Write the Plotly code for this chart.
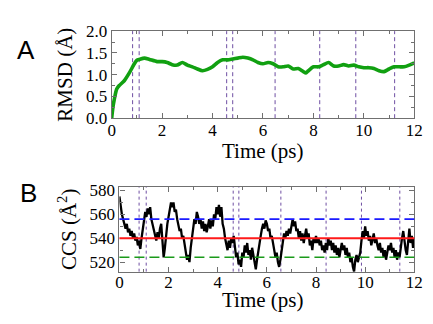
import numpy as np
import plotly.graph_objects as go

# ---------------- data ----------------
rmsd_t = [0, 0.05, 0.1, 0.2, 0.3, 0.5, 0.7, 0.9, 1.0, 1.1, 1.3, 1.5, 1.8, 2.0, 2.2, 2.4,
          2.6, 2.8, 3.0, 3.2, 3.4, 3.6, 3.8, 4.0, 4.2, 4.4, 4.6, 4.8, 5.0, 5.2, 5.4, 5.6,
          5.8, 6.0, 6.2, 6.4, 6.6, 6.8, 7.0, 7.2, 7.4, 7.6, 7.7, 7.8, 8.0, 8.2, 8.4, 8.6,
          8.8, 9.0, 9.2, 9.4, 9.6, 9.8, 10.0, 10.2, 10.4, 10.6, 10.8, 11.0, 11.2, 11.4,
          11.6, 11.8, 12.0]
rmsd_v = [0.0, 0.25, 0.42, 0.67, 0.75, 0.86, 1.04, 1.25, 1.33, 1.35, 1.38, 1.35, 1.30, 1.30,
          1.28, 1.23, 1.22, 1.28, 1.22, 1.18, 1.13, 1.09, 1.12, 1.18, 1.28, 1.34, 1.34, 1.36,
          1.38, 1.40, 1.38, 1.34, 1.28, 1.25, 1.28, 1.25, 1.18, 1.18, 1.20, 1.13, 1.14, 1.07,
          1.04, 1.09, 1.18, 1.18, 1.23, 1.28, 1.20, 1.20, 1.23, 1.20, 1.22, 1.18, 1.16, 1.16,
          1.14, 1.09, 1.07, 1.13, 1.18, 1.18, 1.18, 1.22, 1.27]

ccs_v = [
    575, 566, 560, 556, 552, 548, 552, 545, 548, 542, 546, 540, 544, 538, 541, 534, 538, 531, 540, 548,
    556, 562, 558, 565, 560, 566, 556, 552, 546, 542, 538, 545, 540, 548, 552, 538, 524, 532, 544, 552,
    558, 564, 570, 566, 570, 562, 564, 556, 552, 546, 548, 540, 542, 534, 530, 522, 526, 520, 532, 540,
    546, 556, 552, 562, 558, 552, 556, 548, 554, 546, 552, 545, 550, 556, 548, 555, 550, 560, 556, 566,
    560, 568, 558, 566, 552, 548, 540, 534, 530, 538, 532, 540, 536, 542, 530, 524, 528, 518, 522, 516,
    528, 524, 534, 528, 536, 526, 530, 522, 532, 526, 518, 514, 522, 530, 536, 542, 548, 552, 548, 555,
    552, 546, 548, 540, 542, 534, 530, 524, 528, 520, 516, 522, 530, 538, 544, 540, 546, 542, 548, 544,
    552, 556, 550, 554, 546, 548, 540, 546, 538, 544, 536, 542, 548, 540, 544, 534, 538, 530, 540, 536,
    542, 536, 540, 534, 538, 530, 534, 528, 536, 530, 540, 534, 538, 530, 536, 528, 534, 526, 532, 524,
    530, 536, 530, 534, 526, 532, 524, 528, 520, 524, 516, 512, 522, 526, 520, 524, 528, 538, 546, 540,
    550, 542, 546, 538, 542, 534, 538, 544, 536, 540, 534, 530, 536, 528, 532, 524, 530, 522, 528, 534,
    530, 536, 528, 532, 524, 530, 522, 528, 524, 534, 540, 546, 536, 530, 526, 540, 548, 536, 542, 532, 540,
]
ccs_t = np.round(np.arange(len(ccs_v)) * 0.05, 3)

ccs_upper = 556
ccs_mean = 540
ccs_lower = 524

vlines_a = [0.83, 1.09, 4.56, 4.80, 6.48, 8.25, 9.68, 11.22]
vlines_b = [0.80, 1.09, 4.63, 4.86, 6.57, 8.41, 9.85, 11.41]

x_ticks = [0, 2, 4, 6, 8, 10, 12]
rmsd_ticks = [0.0, 0.5, 1.0, 1.5, 2.0]
ccs_ticks = [520, 540, 560, 580]

# ---------------- figure ----------------
SERIF = "Liberation Serif, Times New Roman, serif"
FRAME = "#707070"
PURPLE = "#6f4fa3"

fig = go.Figure()
fig.add_trace(go.Scatter(x=rmsd_t, y=rmsd_v, mode="lines", xaxis="x", yaxis="y",
                         line=dict(color="#11a011", width=3.6, shape="spline", smoothing=0.6),
                         showlegend=False))
fig.add_trace(go.Scatter(x=ccs_t, y=ccs_v, mode="lines", xaxis="x2", yaxis="y2",
                         line=dict(color="black", width=2.3), showlegend=False))

shapes = []
for v in vlines_a:
    shapes.append(dict(type="line", xref="x", yref="y domain", x0=v, x1=v, y0=0, y1=1,
                       line=dict(color=PURPLE, width=1, dash="4px,3px"), layer="below"))
for v in vlines_b:
    shapes.append(dict(type="line", xref="x2", yref="y2 domain", x0=v, x1=v, y0=0, y1=1,
                       line=dict(color=PURPLE, width=1, dash="3px,3px"), layer="below"))
shapes.append(dict(type="line", xref="x2 domain", yref="y2", x0=0, x1=1, y0=ccs_upper, y1=ccs_upper,
                   line=dict(color="#1a1aff", width=1.6, dash="10px,5px")))
shapes.append(dict(type="line", xref="x2 domain", yref="y2", x0=0, x1=1, y0=ccs_mean, y1=ccs_mean,
                   line=dict(color="#ff1a1a", width=2)))
shapes.append(dict(type="line", xref="x2 domain", yref="y2", x0=0, x1=1, y0=ccs_lower, y1=ccs_lower,
                   line=dict(color="#1a9a1a", width=1.6, dash="10px,5px")))

def xax(domain, anchor, standoff):
    return dict(domain=domain, anchor=anchor, range=[0, 12], tickvals=x_ticks,
                ticks="inside", ticklen=5, tickcolor=FRAME, showline=True, linecolor=FRAME,
                linewidth=1.2, mirror="ticks", showgrid=False, zeroline=False,
                ticklabelstandoff=standoff,
                minor=dict(dtick=1, ticks="inside", ticklen=3, tickcolor=FRAME),
                tickfont=dict(family=SERIF, size=17, color="black"))

def yax(domain, anchor, rng, ticks, minor_dt, title, fmt=None):
    d = dict(domain=domain, anchor=anchor, range=rng, tickvals=ticks,
             ticks="inside", ticklen=5, tickcolor=FRAME, showline=True, linecolor=FRAME,
             linewidth=1.2, mirror="ticks", showgrid=False, zeroline=False,
             minor=dict(dtick=minor_dt, ticks="inside", ticklen=3, tickcolor=FRAME),
             tickfont=dict(family=SERIF, size=17, color="black"),
             title=dict(text=title, font=dict(family=SERIF, size=21, color="black"),
                        standoff=7))
    if fmt:
        d["tickformat"] = fmt
    return d

title_font = dict(family=SERIF, size=21, color="black")
label_font = dict(family="Liberation Sans, Arial, sans-serif", size=26, color="black")

fig.update_layout(
    width=433, height=324, margin=dict(l=0, r=0, t=0, b=0),
    paper_bgcolor="white", plot_bgcolor="white",
    xaxis=xax([111 / 433, 423 / 433], "y", -4),
    yaxis=yax([1 - 116 / 324, 1 - 23.5 / 324], "x", [0, 2], rmsd_ticks, 0.25, "RMSD (Å)", ".1f"),
    xaxis2=xax([119 / 433, 423 / 433], "y2", -5),
    yaxis2=yax([1 - 279 / 324, 1 - 189 / 324], "x2", [512, 583], ccs_ticks, 10, "CCS (Å<sup>2</sup>)"),
    shapes=shapes,
    annotations=[
        dict(text="Time (ps)", x=267 / 433, y=1 - 150.5 / 324, xref="paper", yref="paper",
             showarrow=False, xanchor="center", yanchor="middle", font=title_font),
        dict(text="Time (ps)", x=267 / 433, y=0, xref="paper", yref="paper",
             showarrow=False, xanchor="center", yanchor="bottom", font=title_font),
        dict(text="A", x=23 / 433, y=1 - 44 / 324, xref="paper", yref="paper", showarrow=False,
             xanchor="center", yanchor="middle", font=label_font),
        dict(text="B", x=25 / 433, y=1 - 195 / 324, xref="paper", yref="paper", showarrow=False,
             xanchor="center", yanchor="middle", font=label_font),
    ],
)

fig.write_html("out.html", config={"displayModeBar": False},
               post_script="document.body.style.margin='0';")
